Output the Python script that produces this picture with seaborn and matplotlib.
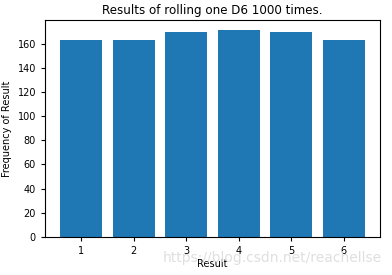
import matplotlib
matplotlib.use("Agg")
import matplotlib.pyplot as plt
import seaborn as sns
import pandas as pd

results = [1, 2, 3, 4, 5, 6]
frequencies = [163, 163, 170, 171, 170, 163]
title = "Results of rolling one D6 1000 times."
xlabel = "Result"
ylabel = "Frequency of Result"

df = pd.DataFrame({"Result": results, "Frequency": frequencies})

fig = plt.figure(figsize=(3.92, 2.75), dpi=100)
ax = fig.add_axes([45/392, 1-237/275, (380-45)/392, (237-20)/275])
sns.barplot(data=df, x="Result", y="Frequency", native_scale=True, color="#1f77b4",
            saturation=1, width=0.8, ax=ax, errorbar=None)
ax.set_xlim(0.31, 6.69)
ax.set_ylim(0, 179.55)
ax.set_xticks(results)
ax.set_xticklabels([str(r) for r in results])
ax.set_yticks(range(0, 161, 20))
ax.tick_params(labelsize=7, length=3)
ax.set_title(title, fontsize=8.6, pad=4)
ax.set_xlabel(xlabel, fontsize=7, labelpad=2)
ax.set_ylabel(ylabel, fontsize=7, labelpad=4)
fig.text(0.975, 0.062, "https://blog.csdn.net/reachellse", ha="right", va="center",
         fontsize=10, color="#dcdcdc", alpha=0.9)
fig.savefig("out.png", dpi=100)
